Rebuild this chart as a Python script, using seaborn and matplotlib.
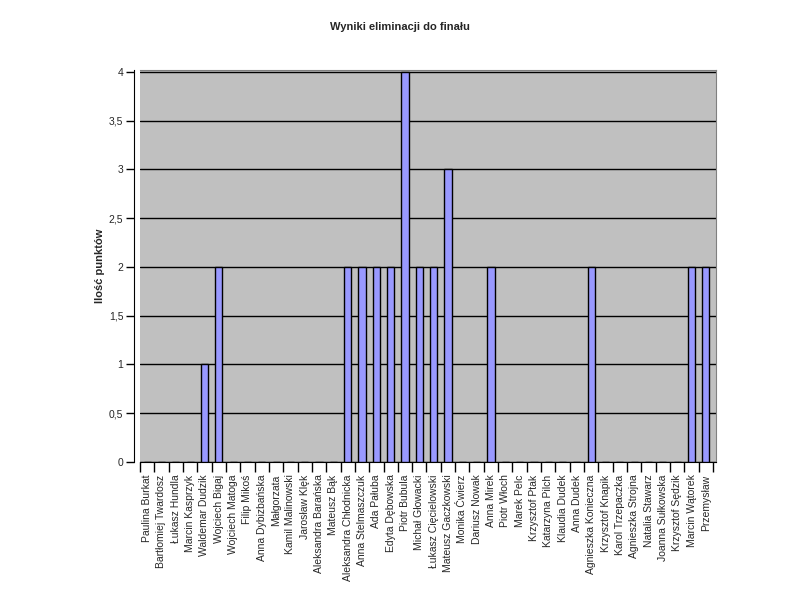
import matplotlib
matplotlib.use("Agg")
import matplotlib.pyplot as plt
import seaborn as sns
import pandas as pd
import numpy as np
from matplotlib.ticker import FuncFormatter, FixedLocator

names = [
    "Paulina Burkat", "Bartłomiej Twardosz", "Łukasz Hundla", "Marcin Kasprzyk",
    "Waldemar Dudzik", "Wojciech Bigaj", "Wojciech Matoga", "Filip Mikoś",
    "Anna Dybizbańska", "Małgorzata", "Kamil Malinowski", "Jarosław Klęk",
    "Aleksandra Barańska", "Mateusz Bąk", "Aleksandra Chłodnicka", "Anna Stelmaszczuk",
    "Ada Pałuba", "Edyta Dębowska", "Piotr Bubula", "Michał Głowacki",
    "Łukasz Cięcielowski", "Mateusz Gaczkowski", "Monika Ćwierz", "Dariusz Nowak",
    "Anna Mirek", "Piotr Włoch", "Marek Pelc", "Krzysztof Ptak",
    "Katarzyna Pilch", "Klaudia Dudek", "Anna Dudek", "Agnieszka Konieczna",
    "Krzysztof Knapik", "Karol Trzepaczka", "Agnieszka Strojna", "Natalia Stawarz",
    "Joanna Sułkowska", "Krzysztof Sędzik", "Marcin Wątorek", "Przemysław",
]
points = [
    0, 0, 0, 0, 1, 2, 0, 0, 0, 0,
    0, 0, 0, 0, 2, 2, 2, 2, 4, 2,
    2, 3, 0, 0, 2, 0, 0, 0, 0, 0,
    0, 2, 0, 0, 0, 0, 0, 0, 2, 2,
]
yticks = [0, 0.5, 1, 1.5, 2, 2.5, 3, 3.5, 4]

df = pd.DataFrame({"name": names, "points": points})

sns.set_style("white")
plt.rcParams["font.family"] = ["Liberation Sans", "DejaVu Sans"]

fig = plt.figure(figsize=(8, 6), dpi=100)
ax = fig.add_axes([140 / 800, 1 - 462 / 600, (716 - 140) / 800, (462 - 70) / 600])
ax.set_facecolor("#C0C0C0")

sns.barplot(data=df, x="name", y="points", order=names, color="#9999FF",
            saturation=1, edgecolor="black", linewidth=1.0, width=0.5, ax=ax,
            zorder=3)

ax.set_xlim(-0.21, 39.71)
ax.set_ylim(0, 4.02)

ax.yaxis.set_major_locator(FixedLocator(yticks))
ax.yaxis.set_major_formatter(FuncFormatter(lambda v, p: ("%g" % v).replace(".", ",")))
ax.grid(axis="y", color="black", linewidth=1.0, zorder=1)
ax.set_axisbelow(True)

ax.spines["top"].set_visible(True)
ax.spines["top"].set_color("#808080")
ax.spines["right"].set_visible(True)
ax.spines["right"].set_color("#808080")
ax.spines["left"].set_position(("outward", 4))
ax.spines["left"].set_color("black")
ax.spines["bottom"].set_color("black")

ax.tick_params(axis="y", which="major", direction="out", length=6, width=1,
               labelsize=7.5, left=True, pad=2, color="black")
ax.set_xticks(range(len(names)))
ax.set_xticklabels(names, rotation=90, fontsize=7.5)
ax.set_xticks(np.arange(-0.5, len(names), 1.0), minor=True)
ax.tick_params(axis="x", which="major", length=0, pad=9)
ax.tick_params(axis="x", which="minor", direction="out", length=7, width=1,
               bottom=True, color="black")

ax.set_xlabel("")
ax.set_ylabel("Ilość punktów", fontsize=8, fontweight="bold", labelpad=3)

fig.text(400 / 800, 1 - 27 / 600, "Wyniki eliminacji do finału", ha="center",
         va="center", fontsize=8, fontweight="bold")

fig.savefig("out.png", dpi=100, facecolor="white")
